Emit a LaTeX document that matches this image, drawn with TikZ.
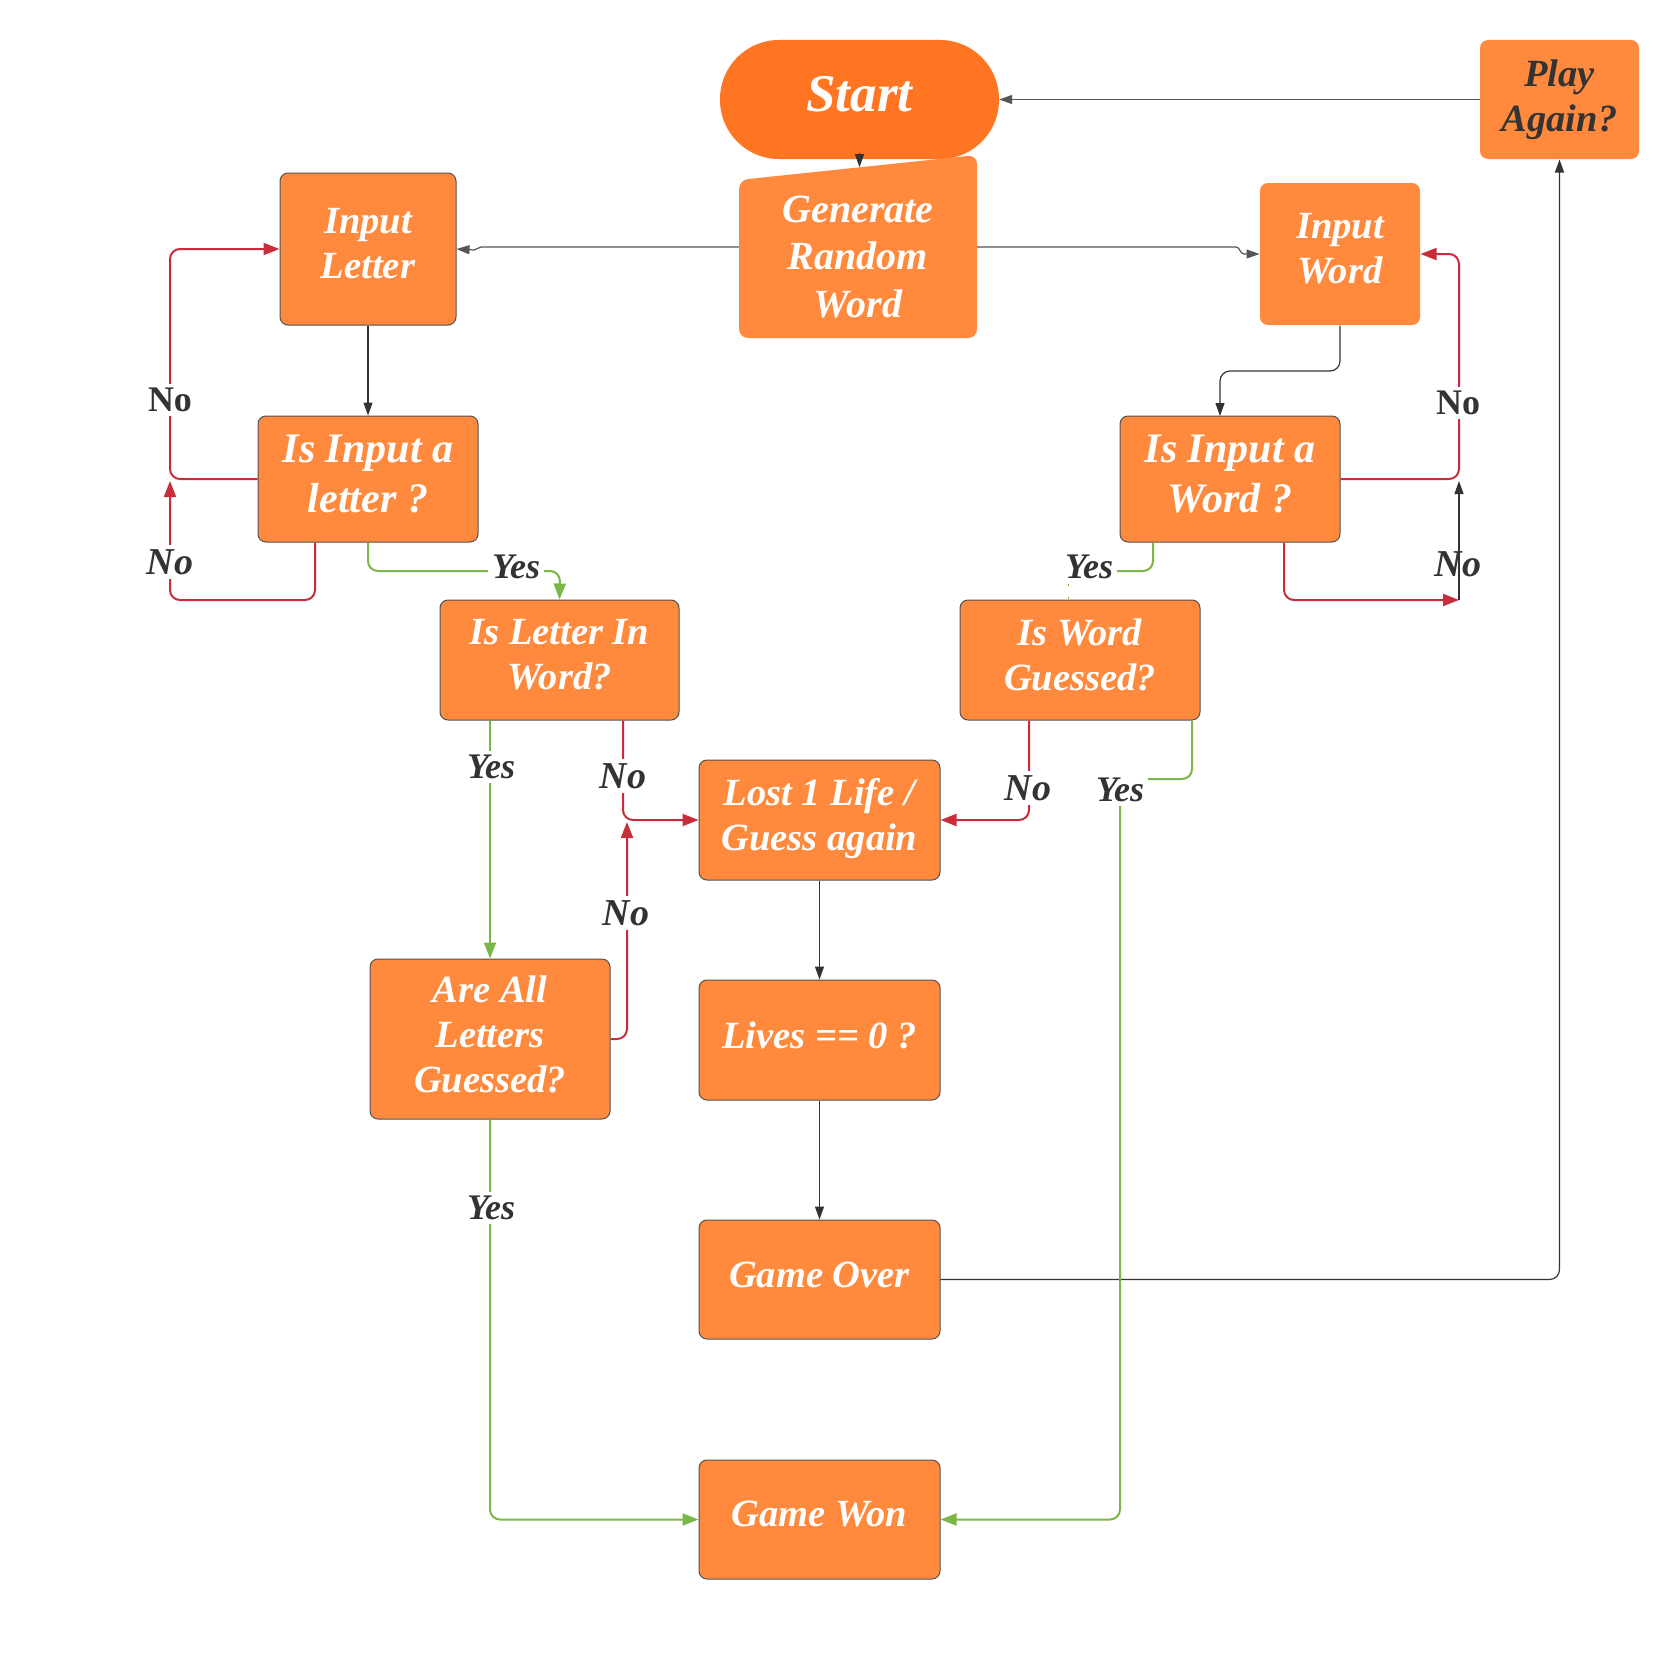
\documentclass[tikz,border=0pt]{standalone}
\usepackage{fontspec}
\setmainfont{Liberation Serif}
\usetikzlibrary{arrows.meta,calc}
\definecolor{boxor}{HTML}{FF8A3D}
\definecolor{startor}{HTML}{FF7521}
\definecolor{lnred}{HTML}{C92D39}
\definecolor{lngreen}{HTML}{7AB648}
\definecolor{lndark}{HTML}{333333}
\definecolor{lngray}{HTML}{555555}
\begin{document}
\begin{tikzpicture}[x=1pt,y=-1pt,
  box/.style={draw=lndark!85, line width=1pt, fill=boxor, rounded corners=8pt, inner sep=0pt},
  nobox/.style={box, draw=none},
  boxtxt/.style={text=white, font=\fontsize{38.5}{45}\selectfont\bfseries\itshape, align=center, inner sep=0pt, yshift=5pt},
  bigtxt/.style={boxtxt, font=\fontsize{42}{50}\selectfont\bfseries\itshape},
  dk/.style={draw=lndark, line width=1.2pt, rounded corners=10pt},
  gy/.style={draw=lngray, line width=1.2pt},
  rd/.style={draw=lnred, line width=2pt, rounded corners=10pt},
  gr/.style={draw=lngreen, line width=2pt, rounded corners=10pt},
  dtip/.style={-{Triangle[length=13pt,width=9pt]}},
  rtip/.style={-{Triangle[length=16pt,width=12pt]}},
  lbl/.style={fill=white, text=lndark, inner sep=4pt, font=\fontsize{36}{40}\selectfont\bfseries\itshape},
  lblno/.style={lbl, font=\fontsize{38}{40}\selectfont\bfseries\itshape},
  lblup/.style={fill=white, text=lndark, inner sep=4pt, font=\fontsize{36}{40}\selectfont\bfseries}
]
\useasboundingbox (0,0) rectangle (1652,1662);
\fill[white] (0,0) rectangle (1652,1662);

% Start
\node[fill=startor, rounded corners=59pt, minimum width=279pt, minimum height=119pt, inner sep=0pt,
  label={[boxtxt, font=\fontsize{53}{60}\selectfont\bfseries\itshape]center:{Start}}] (start) at (859.5,99.5) {};

% Generate Random Word (slanted top)
\fill[boxor, rounded corners=9pt] (739,180) -- (977,155) -- (977,338) -- (739,338) -- cycle;
\node[inner sep=0pt, minimum width=238pt, minimum height=182pt,
  label={[boxtxt, yshift=-15pt, font=\fontsize{40}{47.5}\selectfont\bfseries\itshape]center:{Generate\\Random\\Word}}] (gen) at (858,247) {};

% boxes
\node[box, minimum width=176pt, minimum height=152pt,
  label={[boxtxt]center:{Input\\Letter}}] (inl) at (368,249) {};
\node[box, minimum width=220pt, minimum height=126pt,
  label={[bigtxt]center:{Is Input a\\letter ?}}] (isl) at (368,479) {};
\node[box, minimum width=239pt, minimum height=120pt,
  label={[boxtxt]center:{Is Letter In\\Word?}}] (lin) at (559.5,660) {};
\node[box, minimum width=240pt, minimum height=160pt,
  label={[boxtxt]center:{Are All\\Letters\\Guessed?}}] (aal) at (490,1039) {};
\node[box, minimum width=241pt, minimum height=120pt,
  label={[boxtxt, yshift=-4pt]center:{Lost 1 Life /\\Guess again}}] (lost) at (819.5,820) {};
\node[box, minimum width=241pt, minimum height=120pt,
  label={[boxtxt]center:{Lives == 0 ?}}] (lives) at (819.5,1040) {};
\node[box, minimum width=241pt, minimum height=119pt,
  label={[boxtxt]center:{Game Over}}] (over) at (819.5,1279.5) {};
\node[box, minimum width=241pt, minimum height=119pt,
  label={[boxtxt]center:{Game Won}}] (won) at (819.5,1519.5) {};
\node[nobox, minimum width=160pt, minimum height=142pt,
  label={[boxtxt]center:{Input\\Word}}] (inw) at (1340,254) {};
\node[box, minimum width=220pt, minimum height=126pt,
  label={[bigtxt]center:{Is Input a\\Word ?}}] (isw) at (1230,479) {};
\node[box, minimum width=240pt, minimum height=120pt,
  label={[boxtxt]center:{Is Word\\Guessed?}}] (wg) at (1080,660) {};
\node[nobox, minimum width=159pt, minimum height=119pt,
  label={[boxtxt, text=lndark, yshift=-5pt]center:{Play\\Again?}}] (play) at (1559.5,99.5) {};

% dark connectors
\draw[gy, dtip] (play.west) -- (start.east);
\draw[dk, dtip] ($(start.south)+(0,-6)$) -- ($(start.south)+(0,8)$);
\draw[gy, dtip] (gen.west) -- (481,247) to[out=180,in=0] (474,250) -- (inl.east);
\draw[gy, dtip] (gen.east) -- (1236,247) to[out=0,in=180] (1244,254) -- (inw.west);
\draw[dk, dtip] (inl.south) -- (isl.north);
\draw[dk, dtip] (inw.south) -- (1340,371) -- (1220,371) -- (1220,416);
\draw[dk, dtip] (lost.south) -- (lives.north);
\draw[dk, dtip] (lives.south) -- (over.north);
\draw[dk, dtip] (over.east) -- (1559.5,1279.5) -- (play.south);

% red connectors
\draw[rd, rtip] (isl.west) -- (170,479) -- (170,249) -- (inl.west);
\draw[rd, rtip] ([xshift=-53pt]isl.south) -- (315,600) -- (170,600) -- (170,481);
\draw[rd, rtip] ([xshift=63.5pt]lin.south) -- (623,820) -- (lost.west);
\draw[rd, rtip] (aal.east) -- (627,1039) -- (627,822);
\draw[rd, rtip] ([xshift=-51pt]wg.south) -- (1029,820) -- (lost.east);
\draw[rd, rtip] (isw.east) -- (1459,479) -- (1459,254) -- (inw.east);
\coordinate (nr) at (1459,600);
\draw[rd, rtip] ([xshift=54pt]isw.south) -- (1284,600) -- (nr);
\draw[dk, dtip] (nr) -- (1459,481);

% green connectors
\draw[gr, rtip] (isl.south) -- (368,571) -- (560,571) -- (lin.north);
\draw[gr, rtip] (lin.south -| aal.north) -- (aal.north);
\draw[gr, rtip] (aal.south) -- (490,1519.5) -- (won.west);
\draw[gr, rtip] ([xshift=112pt]wg.south) -- (1192,779) -- (1120,779) -- (1120,1519.5) -- (won.east);
\draw[gr] ([xshift=-77pt]isw.south) -- (1153,571) -- (1068,571);
\draw[lngreen, line width=1pt, dash pattern=on 2pt off 11pt] (1068,584) -- (wg.north -| 1068,0);

% labels
\node[lblup] (l1) at (170,400) {No};
\node[lblno] (l2) at (170,562) {No};
\node[lbl] (l3) at (516,567) {Yes};
\node[lbl] (l4) at (491,767) {Yes};
\node[lblno] (l5) at (623,776) {No};
\node[lblno] (l6) at (626,913) {No};
\node[lblno] (l7) at (1028,788) {No};
\node[lbl] (l8) at (1120,790) {Yes};
\node[lbl] (l9) at (1089,567) {Yes};
\node[lblup] (l10) at (1458,403) {No};
\node[lblno, fill=none] (l11) at (1458,564) {No};
\node[lbl] (l12) at (491,1208) {Yes};
\draw[dk] (1459,545) -- (1459,582);
\end{tikzpicture}
\end{document}
